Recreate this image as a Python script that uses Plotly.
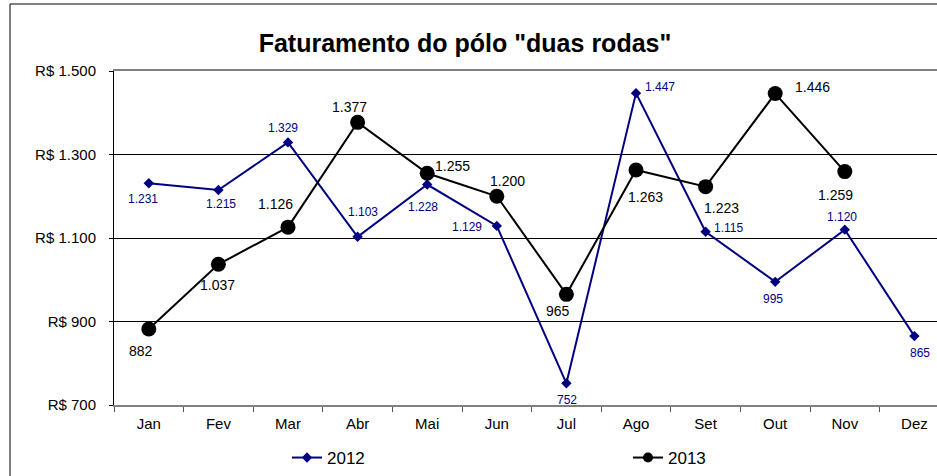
import plotly.graph_objects as go

months = ["Jan", "Fev", "Mar", "Abr", "Mai", "Jun", "Jul", "Ago", "Set", "Out", "Nov", "Dez"]
sales_2012 = [1231, 1215, 1329, 1103, 1228, 1129, 752, 1447, 1115, 995, 1120, 865]
sales_2013 = [882, 1037, 1126, 1377, 1255, 1200, 965, 1263, 1223, 1446, 1259, None]
y_ticks = [700, 900, 1100, 1300, 1500]
y_tick_text = ["R$ " + f"{v:,}".replace(",", ".") for v in y_ticks]

# label offsets (pixels, right / down) relative to each point
off_2012 = [(-6, 16), (3, 14), (-5, -14), (5, -25), (-4, 22), (-30, 1),
            (1, 17), (24, -6), (23, -4), (-2, 17), (-3, -13), (6, 17)]
off_2013 = [(-8, 22), (-1, 21), (-13, -23), (-8, -15), (25, -7), (11, -15),
            (-8, 17), (9, 27), (16, 21), (37, -7), (-9, 23), (0, 0)]

W, H = 937, 476
ML, MR, MT, MB = 114, 0, 71, 71
PW, PH = W - ML - MR, H - MT - MB
FONT = "Liberation Sans, Arial, sans-serif"
NAVY = "#000080"

fig = go.Figure()
fig.add_trace(go.Scatter(
    x=months, y=sales_2012, name="2012", mode="lines+markers", showlegend=False,
    line=dict(color=NAVY, width=2),
    marker=dict(symbol="diamond", size=8, color=NAVY),
))
fig.add_trace(go.Scatter(
    x=months, y=sales_2013, name="2013", mode="lines+markers", showlegend=False,
    line=dict(color="black", width=2),
    marker=dict(symbol="circle", size=15, color="black"),
))
# legend entries (smaller legend symbols, as in the original)
fig.add_trace(go.Scatter(
    x=[None], y=[None], name="2012", mode="lines+markers",
    line=dict(color=NAVY, width=2),
    marker=dict(symbol="diamond", size=8, color=NAVY),
))
fig.add_trace(go.Scatter(
    x=[None], y=[None], name="2013", mode="lines+markers",
    line=dict(color="black", width=2),
    marker=dict(symbol="circle", size=10, color="black"),
))

def fmt(v):
    return f"{v:,}".replace(",", ".")

annotations = []
for series, offs, color, size in [(sales_2012, off_2012, NAVY, 12),
                                  (sales_2013, off_2013, "black", 14)]:
    for m, v, (dx, dy) in zip(months, series, offs):
        if v is None:
            continue
        annotations.append(dict(x=m, y=v, text=fmt(v), showarrow=False,
                                xanchor="center", yanchor="middle",
                                xshift=dx, yshift=-dy,
                                font=dict(family=FONT, size=size, color=color)))

def px_x(p):
    return (p - ML) / PW

def px_y(p):
    return (H - MB - p) / PH

fig.update_layout(
    width=W, height=H,
    margin=dict(l=ML, r=MR, t=MT, b=MB, pad=0),
    paper_bgcolor="white", plot_bgcolor="white",
    font=dict(family=FONT, size=15, color="black"),
    title=dict(text="<b>Faturamento do pólo \"duas rodas\"</b>",
               font=dict(family=FONT, size=25, color="black"),
               x=465 / W, xref="container", xanchor="center",
               y=1 - 43 / H, yref="container", yanchor="middle"),
    xaxis=dict(type="category", range=[-0.5, -0.5 + PW / 69.6],
               tickson="boundaries", ticks="outside", ticklen=5, tickcolor="#555555",
               showline=True, linecolor="#808080", linewidth=2, mirror=True,
               showgrid=False, zeroline=False, ticklabelstandoff=4,
               tickfont=dict(family=FONT, size=15)),
    yaxis=dict(range=[700, 1500], tickvals=y_ticks, ticktext=y_tick_text,
               ticks="outside", ticklen=4, tickcolor="black",
               showline=True, linecolor="black", linewidth=1,
               showgrid=True, gridcolor="black", gridwidth=1, zeroline=False,
               ticklabelstandoff=10,
               tickfont=dict(family=FONT, size=15)),
    annotations=annotations,
    showlegend=True,
    legend=dict(orientation="h", xref="container", yref="container",
                x=287 / W, xanchor="left", y=1 - 458 / H, yanchor="middle",
                entrywidth=296,
                font=dict(family=FONT, size=17, color="black"),
                bgcolor="rgba(0,0,0,0)"),
    shapes=[
        dict(type="line", xref="paper", yref="paper",
             x0=px_x(10), x1=px_x(W + 5), y0=px_y(4), y1=px_y(4),
             line=dict(color="#808080", width=2)),
        dict(type="line", xref="paper", yref="paper",
             x0=px_x(10), x1=px_x(10), y0=px_y(4), y1=px_y(H + 5),
             line=dict(color="black", width=1)),
    ],
)

fig.write_html("out.html", config={"displayModeBar": False},
               post_script="document.body.style.margin='0';document.body.style.overflow='hidden';")
